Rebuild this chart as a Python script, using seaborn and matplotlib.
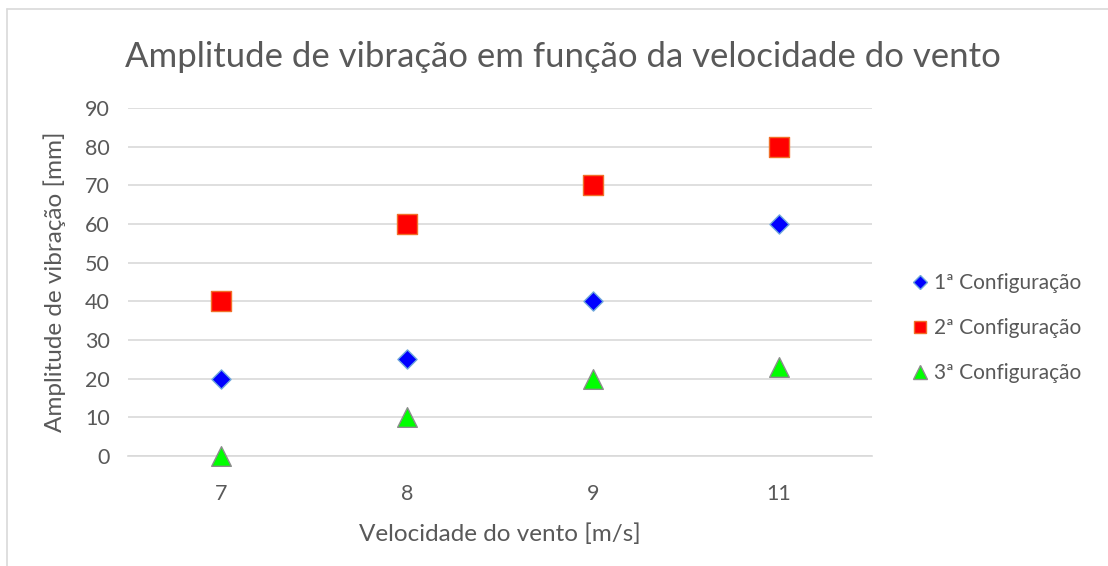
import matplotlib
matplotlib.use("Agg")
import matplotlib.pyplot as plt
from matplotlib.lines import Line2D
import seaborn as sns
import pandas as pd

# Wind speed categories (m/s) and vibration amplitude (mm) per configuration
velocidades = ["7", "8", "9", "11"]
config_1 = [20, 25, 40, 60]
config_2 = [40, 60, 70, 80]
config_3 = [0, 10, 20, 23]
series_names = ["1ª Configuração", "2ª Configuração", "3ª Configuração"]
y_ticks = [0, 10, 20, 30, 40, 50, 60, 70, 80, 90]

rows = []
for name, vals in zip(series_names, [config_1, config_2, config_3]):
    for i, (v, a) in enumerate(zip(velocidades, vals)):
        rows.append({"pos": i, "vel": v, "amp": a, "serie": name})
df = pd.DataFrame(rows)

sns.set_theme(style="white")
plt.rcParams["font.family"] = ["Lato", "DejaVu Sans"]

fig = plt.figure(figsize=(11.08, 5.66), dpi=100)
ax = fig.add_axes([0.1155, 0.1943, 0.6715, 0.6148])

styles = {
    "1ª Configuração": dict(marker="D", color="#0000ff", edge="#6fa8dc", s=95),
    "2ª Configuração": dict(marker="s", color="#ff0000", edge="#f0702a", s=190),
    "3ª Configuração": dict(marker="^", color="#00ff00", edge="#8c8c8c", s=200),
}

for name in series_names:
    st = styles[name]
    sns.scatterplot(data=df[df["serie"] == name], x="pos", y="amp", ax=ax,
                    marker=st["marker"], color=st["color"], edgecolor=st["edge"],
                    linewidth=1.0, s=st["s"], zorder=3, legend=False, clip_on=False)

ax.set_xlim(-0.5, len(velocidades) - 0.5)
ax.set_ylim(0, 90)
ax.set_xticks(range(len(velocidades)))
ax.set_xticklabels(velocidades)
ax.set_yticks(y_ticks)
ax.yaxis.grid(True, color="#d9d9d9", linewidth=1.2)
ax.set_axisbelow(True)
for sp in ["top", "right", "left"]:
    ax.spines[sp].set_visible(False)
ax.spines["bottom"].set_color("#d9d9d9")
ax.spines["bottom"].set_linewidth(1.2)
ax.tick_params(axis="both", length=0, labelsize=15.5, labelcolor="#595959")
ax.tick_params(axis="x", pad=20)
ax.tick_params(axis="y", pad=13)

ax.set_xlabel("Velocidade do vento [m/s]", fontsize=17.5, color="#595959", labelpad=14)
ax.set_ylabel("Amplitude de vibração [mm]", fontsize=17.5, color="#595959", labelpad=14)

fig.text(0.113, 0.9, "Amplitude de vibração em função da velocidade do vento",
         fontsize=25, color="#595959", ha="left", va="center")

handles = [Line2D([], [], linestyle="none", marker=styles[n]["marker"],
                  markerfacecolor=styles[n]["color"], markeredgecolor=styles[n]["edge"],
                  markersize={"D": 7, "s": 9, "^": 10}[styles[n]["marker"]])
           for n in series_names]
leg = fig.legend(handles, series_names, loc="center left", bbox_to_anchor=(0.804, 0.42),
                 frameon=False, fontsize=15, handletextpad=0.15, labelspacing=1.2,
                 handlelength=1.0)
for t in leg.get_texts():
    t.set_color("#595959")

# Chart border
fig.add_artist(Line2D([7 / 1108, 7 / 1108], [0, 1 - 9 / 566], transform=fig.transFigure,
                      color="#d9d9d9", linewidth=1.2))
fig.add_artist(Line2D([7 / 1108, 1], [1 - 9 / 566, 1 - 9 / 566], transform=fig.transFigure,
                      color="#d9d9d9", linewidth=1.2))

fig.savefig("out.png", dpi=100)
